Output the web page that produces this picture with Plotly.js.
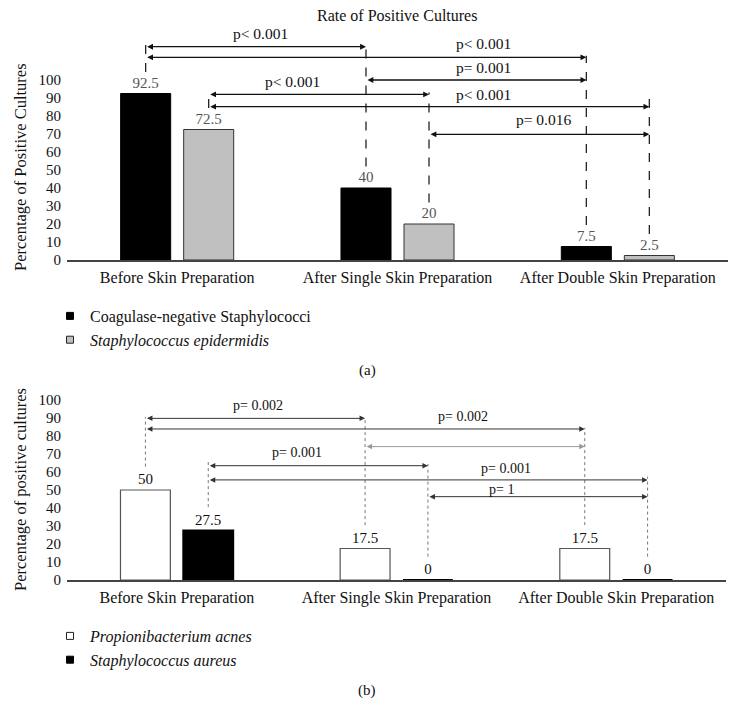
<!DOCTYPE html>
<html><head><meta charset="utf-8">
<script src="https://cdn.plot.ly/plotly-3.0.1.min.js"></script>
<style>html,body{margin:0;padding:0;background:#fff}#chart{width:739px;height:721px}</style>
</head><body><div id="chart"></div>
<script>
// ---------------- DATA ----------------
const categories = ["Before Skin Preparation", "After Single Skin Preparation", "After Double Skin Preparation"];
const yTickVals = [0, 10, 20, 30, 40, 50, 60, 70, 80, 90, 100];

// Panel (a)
const chartTitleA = "Rate of Positive Cultures";
const yTitleA = "Percentage of Positive Cultures";
const seriesNamesA = ["Coagulase-negative Staphylococci", "<i>Staphylococcus epidermidis</i>"];
const coagNegStaph = [92.5, 40, 7.5];
const staphEpidermidis = [72.5, 20, 2.5];
// comparisons: [series index, from category, to category, p label]
const comparisonsA = [
  [0, 0, 1, "p< 0.001"],
  [0, 0, 2, "p< 0.001"],
  [0, 1, 2, "p= 0.001"],
  [1, 0, 1, "p< 0.001"],
  [1, 0, 2, "p< 0.001"],
  [1, 1, 2, "p= 0.016"]
];

// Panel (b)
const yTitleB = "Percentage of positive cultures";
const seriesNamesB = ["<i>Propionibacterium acnes</i>", "<i>Staphylococcus aureus</i>"];
const propAcnes = [50, 17.5, 17.5];
const staphAureus = [27.5, 0, 0];
const comparisonsB = [
  [0, 0, 1, "p= 0.002"],
  [0, 0, 2, "p= 0.002"],
  [0, 1, 2, ""],
  [1, 0, 1, "p= 0.001"],
  [1, 0, 2, "p= 0.001"],
  [1, 1, 2, "p= 1"]
];
const captions = ["(a)", "(b)"];

// ---------------- LAYOUT / POSITIONS ----------------
const W = 739, H = 721;
const FONT = "Liberation Serif, Times New Roman, serif";
const BARGAP = 0.428, BARGROUPGAP = 0.206;
const OFF = (1 - BARGAP) / 4;           // bar centre offset from category centre
const px = v => v / W;                    // pixel -> paper x
const py = v => 1 - v / H;                // pixel -> paper y

const levelsA = [118.5, 112.6, 100, 92, 85.2, 69.8];
const labelPosA = [[260, 126], [484, 120.5], [483, 107], [292, 99], [484, 92], [543, 78]];
const lineTopA = [[119.5, 119.5, 113.5], [93, 93, 93.5]];
const levelsB = [89.8, 83.9, 74.1, 63.5, 55.6, 46.3];
const labelPosB = [[258, 96.7], [463, 90.7], null, [297, 70.6], [506, 62], [501, 50.4]];
const lineTopB = [[90.5, 90.5, 84.5], [65.7, 64.5, 57.4]];
const arrowColorB = ["#333", "#333", "#999", "#333", "#333", "#333"];

const centre = (s, c) => c + (s === 0 ? -OFF : OFF);

const traces = [];
function addBars(vals, name, xa, ya, fill, lineColor, lineW, textColor) {
  traces.push({
    type: "bar", x: categories, y: vals, xaxis: xa, yaxis: ya, name: name,
    showlegend: false,
    marker: {color: fill, line: {color: lineColor, width: lineW}},
    text: vals.map(v => String(v)), textposition: "outside", cliponaxis: false,
    textfont: {family: FONT, size: 15, color: textColor},
    hoverinfo: "skip"
  });
}
function addLegend(name, legend, fill, lineColor) {
  traces.push({
    type: "scatter", mode: "markers", x: [null], y: [null], name: name, legend: legend,
    xaxis: legend === "legend" ? "x" : "x2", yaxis: legend === "legend" ? "y" : "y2",
    marker: {symbol: "square", size: 7, color: fill, line: {color: lineColor, width: 1}},
    hoverinfo: "skip"
  });
}
addBars(coagNegStaph, seriesNamesA[0], "x", "y", "#000000", "#000000", 1, "#555555");
addBars(staphEpidermidis, seriesNamesA[1], "x", "y", "#c0c0c0", "#333333", 1, "#555555");
addBars(propAcnes, seriesNamesB[0], "x2", "y2", "#ffffff", "#555555", 1.2, "#111111");
addBars(staphAureus, seriesNamesB[1], "x2", "y2", "#000000", "#000000", 2, "#111111");
addLegend(seriesNamesA[0], "legend", "#000000", "#000000");
addLegend(seriesNamesA[1], "legend", "#c0c0c0", "#222222");
addLegend(seriesNamesB[0], "legend2", "#ffffff", "#222222");
addLegend(seriesNamesB[1], "legend2", "#000000", "#000000");

const shapes = [];
const annotations = [];

function addComparisons(comps, valsBySeries, levels, labelPos, lineTop, xa, ya, opts) {
  valsBySeries.forEach((vals, s) => {
    vals.forEach((v, c) => {
      shapes.push({type: "line", xref: xa, yref: ya,
        x0: centre(s, c), x1: centre(s, c), y0: v + opts.gap, y1: lineTop[s][c],
        line: {color: opts.guideColor, width: opts.guideWidth, dash: opts.dash}});
    });
  });
  comps.forEach((cp, i) => {
    const [s, c0, c1, lab] = cp;
    annotations.push({xref: xa, yref: ya, axref: xa, ayref: ya,
      x: centre(s, c1), y: levels[i], ax: centre(s, c0), ay: levels[i],
      text: "", showarrow: true, arrowside: "end+start",
      arrowhead: 2, startarrowhead: 2, arrowsize: opts.headSize, startarrowsize: opts.headSize,
      arrowwidth: opts.arrowWidth, arrowcolor: opts.arrowColor[i], standoff: 0, startstandoff: 0});
    if (lab && labelPos[i]) {
      annotations.push({xref: "paper", yref: ya, x: px(labelPos[i][0]), y: labelPos[i][1],
        text: lab, showarrow: false, xanchor: "center", yanchor: "middle",
        font: {family: FONT, size: opts.labelSize, color: "#111"}});
    }
  });
}
addComparisons(comparisonsA, [coagNegStaph, staphEpidermidis], levelsA, labelPosA, lineTopA, "x", "y",
  {gap: 12, guideColor: "#222", guideWidth: 1.3, dash: "dash", headSize: 0.9, arrowWidth: 1.3,
   arrowColor: Array(6).fill("#111"), labelSize: 15.5});
addComparisons(comparisonsB, [propAcnes, staphAureus], levelsB, labelPosB, lineTopB, "x2", "y2",
  {gap: 13, guideColor: "#777", guideWidth: 1, dash: "dot", headSize: 1.1, arrowWidth: 1,
   arrowColor: arrowColorB, labelSize: 14});

function paperText(text, x, y, size, angle) {
  annotations.push({xref: "paper", yref: "paper", x: px(x), y: py(y), text: text, showarrow: false,
    xanchor: "center", yanchor: "middle", textangle: angle || 0,
    font: {family: FONT, size: size, color: "#111"}});
}
paperText(chartTitleA, 397, 16, 16);
paperText(yTitleA, 20, 167, 16.5, -90);
paperText(yTitleB, 20, 490, 16.5, -90);
paperText(captions[0], 367, 370, 15);
paperText(captions[1], 367, 690, 15);

const xCommon = {type: "category", range: [-0.5, 2.5], showline: true, linecolor: "#444", linewidth: 1.5,
  ticks: "", showgrid: false, zeroline: false, fixedrange: true, ticklabelstandoff: 2,
  tickfont: {family: FONT, size: 16, color: "#111"}};
const yCommon = {tickvals: yTickVals, showline: false, showgrid: false, zeroline: false, ticks: "",
  fixedrange: true, ticklabelstandoff: 5, tickfont: {family: FONT, size: 15, color: "#111"}};

const layout = {
  width: W, height: H, margin: {l: 0, r: 0, t: 0, b: 0},
  paper_bgcolor: "#fff", plot_bgcolor: "rgba(0,0,0,0)",
  barmode: "group", bargap: BARGAP, bargroupgap: BARGROUPGAP,
  font: {family: FONT, color: "#111"},
  xaxis: Object.assign({}, xCommon, {domain: [px(67), px(728)], anchor: "y"}),
  yaxis: Object.assign({}, yCommon, {domain: [py(260), py(26)], range: [0, 130], anchor: "x"}),
  xaxis2: Object.assign({}, xCommon, {domain: [px(67), px(726)], anchor: "y2"}),
  yaxis2: Object.assign({}, yCommon, {domain: [py(580), py(391)], range: [0, 105], anchor: "x2"}),
  legend: {x: px(50), y: py(299), xanchor: "left", yanchor: "top", bgcolor: "rgba(0,0,0,0)",
    font: {family: FONT, size: 16, color: "#111"}, tracegroupgap: 0},
  legend2: {x: px(50), y: py(619), xanchor: "left", yanchor: "top", bgcolor: "rgba(0,0,0,0)",
    font: {family: FONT, size: 16, color: "#111"}, tracegroupgap: 0},
  shapes: shapes, annotations: annotations, showlegend: true
};
Plotly.newPlot("chart", traces, layout, {staticPlot: true, displayModeBar: false});
</script></body></html>
